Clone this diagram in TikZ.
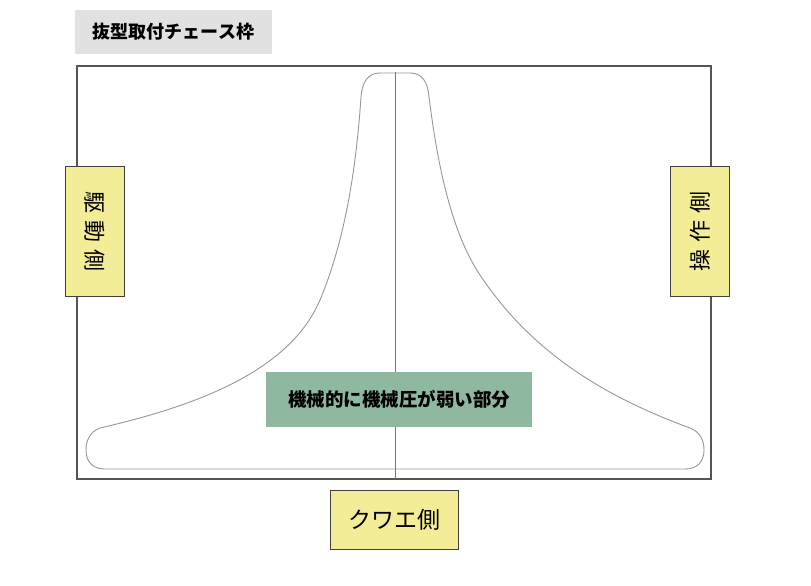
\documentclass[tikz,border=0pt]{standalone}
\usepackage{fontspec}
\setmainfont{Noto Sans CJK JP}
\usepackage{tikz}
\usetikzlibrary{positioning}
\definecolor{tagyellow}{RGB}{243,237,152}
\definecolor{taggreen}{RGB}{143,184,161}
\definecolor{taggray}{RGB}{225,225,225}
\definecolor{framegray}{RGB}{85,85,85}
\definecolor{diegray}{RGB}{150,150,150}
\definecolor{axisblue}{RGB}{100,100,240}
\tikzset{
  side/.style = {draw = black!75, fill = tagyellow, line width = 1pt, inner sep = 0pt,
                 font = \fontsize{23}{23}\selectfont},
  zone/.style = {fill = taggreen, inner sep = 0pt, minimum width = 266, minimum height = 55,
                 font = \fontsize{18.5}{18.5}\selectfont\bfseries},
  title/.style = {fill = taggray, inner sep = 0pt, minimum width = 197, minimum height = 44,
                 font = \fontsize{18}{18}\selectfont\bfseries}
}

\begin{document}
\begin{tikzpicture}[x = 1pt, y = -1pt]
		\useasboundingbox (0,0) rectangle (811,586);
		% chase frame
		\draw[framegray, line width = 1.3pt] (77,66) rectangle (711,479);
		% centre line
		\coordinate (ctop) at (395,72);
		\coordinate (cbot) at (395,479);
		\draw[axisblue, line width = 1pt] (ctop) -- (cbot);
		% weak zone outline
		\draw[diegray, line width = 0.9pt]
		(380,73) -- (410,73)
		.. controls (422,73) and (428,82) .. (429,97)
		.. controls (437,160) and (450,230) .. (480,275)
		.. controls (530,350) and (600,395) .. (690,428)
		.. controls (700,432) and (704,440) .. (704,450)
		.. controls (704,462) and (697,469) .. (685,469)
		-- (105,469)
		.. controls (93,469) and (86,462) .. (86,450)
		.. controls (86,440) and (90,432) .. (100,428)
		.. controls (200,405) and (290,370) .. (320,300)
		.. controls (345,240) and (356,170) .. (361,97)
		.. controls (362,82) and (368,73) .. (380,73) -- cycle;
		% labels
		\node (t) [title] at (173.5,32) {抜型取付チェース枠};
		\node (l) [side, minimum width = 130, minimum height = 59, rotate = -90,
		           font = \fontsize{22}{22}\selectfont] at (95,231.5) {駆\hspace{0.3em}動\hspace{0.3em}側};
		\node (r) [side, minimum width = 130, minimum height = 59, rotate = 90,
		           font = \fontsize{22}{22}\selectfont] at (700,231.5) {操\hspace{0.3em}作\hspace{0.3em}側};
		\node (b) [side, minimum width = 128, minimum height = 59] at (394,519.5) {クワエ側};
		\node (w) [zone] at (399,399.5) {機械的に機械圧が弱い部分};
		\end{tikzpicture}
\end{document}
